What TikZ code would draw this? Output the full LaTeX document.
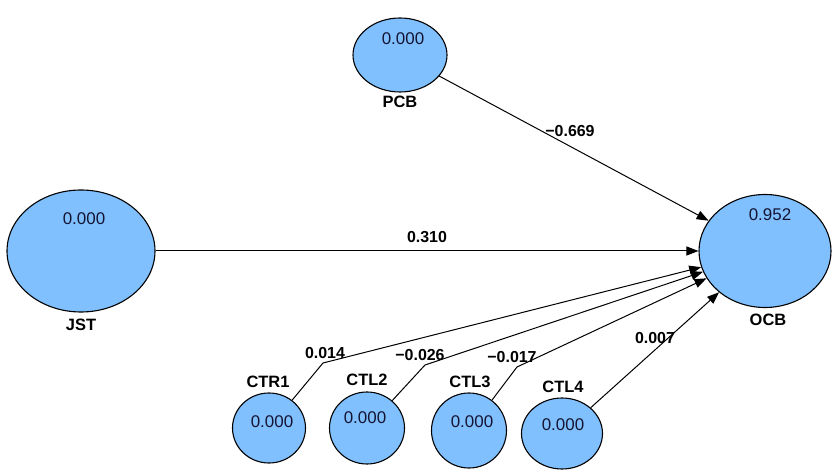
\documentclass[tikz,border=0pt]{standalone}
\usepackage{fontspec}
\setmainfont{Liberation Sans}
\usetikzlibrary{shapes.geometric,arrows.meta}
\definecolor{lvfill}{RGB}{128,192,255}
\definecolor{valtxt}{RGB}{20,20,50}
\tikzset{
  lv/.style={ellipse,draw=black,line width=1.1bp,fill=lvfill,inner sep=0pt},
  val/.style={font=\fontsize{17}{19}\selectfont,text=valtxt,inner sep=0pt},
  nm/.style={font=\fontsize{16.5}{18}\selectfont\bfseries,inner sep=0pt},
  coef/.style={font=\fontsize{16}{18}\selectfont\bfseries,inner sep=0pt},
  path/.style={draw=black,line width=1bp,-{Triangle[length=12bp,width=9bp]}},
}
\begin{document}
\begin{tikzpicture}[x=1bp,y=-1bp]
\useasboundingbox (0,0) rectangle (832,472);
% latent variables
\node[lv,minimum width=94bp,minimum height=74bp] (pcb) at (400,55) {};
\node[lv,minimum width=148bp,minimum height=122bp] (jst) at (81,251) {};
\node[lv,minimum width=132bp,minimum height=113bp] (ocb) at (765,251) {};
\node[lv,minimum width=73bp,minimum height=70bp] (ctr1) at (269,428) {};
\node[lv,minimum width=75bp,minimum height=72bp] (ctl2) at (367,428) {};
\node[lv,minimum width=75bp,minimum height=75bp] (ctl3) at (469,430.5) {};
\node[lv,minimum width=81bp,minimum height=71bp] (ctl4) at (562,433.5) {};
% values
\node[val] (pcbv) at (403,39) {0.000};
\node[val] (jstv) at (84,219) {0.000};
\node[val] (ocbv) at (770,215) {0.952};
\node[val] (ctr1v) at (272,422) {0.000};
\node[val] (ctl2v) at (365,418) {0.000};
\node[val] (ctl3v) at (472,422) {0.000};
\node[val] (ctl4v) at (563,425) {0.000};
% names
\node[nm] (pcbn) at (400,102) {PCB};
\node[nm] (jstn) at (81,325) {JST};
\node[nm] (ocbn) at (768,320) {OCB};
\node[nm] (ctr1n) at (268,382) {CTR1};
\node[nm] (ctl2n) at (367,380) {CTL2};
\node[nm] (ctl3n) at (470,382) {CTL3};
\node[nm] (ctl4n) at (563,387) {CTL4};
% bend points
\coordinate (b1) at (323,363);
\coordinate (b2) at (425,365);
\coordinate (b3) at (517,367);
% connectors
\draw[path] (pcb) -- (ocb);
\draw[path] (jst) -- (ocb);
\draw[path] (ctr1) -- (b1) -- (ocb);
\draw[path] (ctl2) -- (b2) -- (ocb);
\draw[path] (ctl3) -- (b3) -- (ocb);
\draw[path] (ctl4) -- (ocb);
% coefficients
\node[coef] (c1) at (570,131) {−0.669};
\node[coef] (c2) at (427,237) {0.310};
\node[coef] (c3) at (325,353) {0.014};
\node[coef] (c4) at (420,355) {−0.026};
\node[coef] (c5) at (512,357) {−0.017};
\node[coef] (c6) at (655,338) {0.007};
\end{tikzpicture}
\end{document}
